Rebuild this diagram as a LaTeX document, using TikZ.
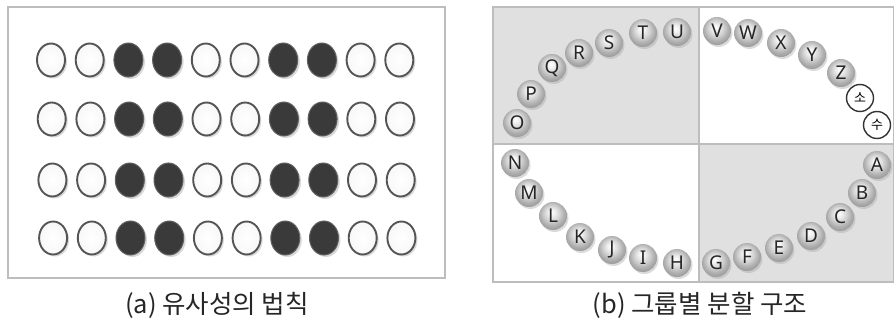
\documentclass[tikz,border=0pt]{standalone}
\usepackage{fontspec}
\setmainfont{Noto Sans}
\newfontfamily\kor{Noto Sans CJK KR}
\usetikzlibrary{shapes.geometric,shadows}
\definecolor{panelgray}{HTML}{E0E0E0}
\definecolor{framegray}{HTML}{BDBDBD}
\definecolor{ringgray}{HTML}{555555}
\definecolor{darkdot}{HTML}{3A3A3A}
\pgfdeclareradialshading{myball}{\pgfpoint{-3bp}{7bp}}{%
  color(0bp)=(white); color(6bp)=(black!6); color(14bp)=(black!18);
  color(22bp)=(black!32); color(30bp)=(black!42); color(50bp)=(black!50)}
\tikzset{
  frame/.style={draw=framegray, line width=1.2pt},
  opendot/.style={ellipse, minimum width=28pt, minimum height=33pt, inner sep=0pt,
    draw=ringgray, line width=1.9pt, inner color=white, outer color=black!3,
    drop shadow={shadow xshift=2pt, shadow yshift=-2pt, fill=black!25, opacity=.6}},
  filldot/.style={ellipse, minimum width=29pt, minimum height=34pt, inner sep=0pt,
    fill=darkdot, draw=darkdot!80, line width=1pt,
    drop shadow={shadow xshift=2pt, shadow yshift=-2pt, fill=black!25, opacity=.6}},
  ballnode/.style={circle, minimum size=28pt, inner sep=0pt, shading=myball,
    text=black!85, font=\fontsize{19}{19}\selectfont,
    drop shadow={shadow xshift=1.5pt, shadow yshift=-2pt, fill=black!35, opacity=.4}},
  ringnode/.style={circle, minimum size=27pt, inner sep=0pt, draw=black!80,
    line width=1.4pt, fill=white, font=\kor\fontsize{13}{13}\selectfont},
  caption/.style={font=\kor\fontsize{25.5}{28}\selectfont, text=black!85}
}
\begin{document}
\begin{tikzpicture}[x=1pt,y=-1pt]
\useasboundingbox (0,0) rectangle (894,320);
% ---------- panel (a)
\draw[frame] (8,7) rectangle (445,278);
\foreach \r/\y in {1/60,2/119,3/180,4/238}{
  \foreach \c in {1,...,10}{
    \pgfmathsetmacro{\xx}{51+(\c-1)*38.7+(\r-1)*0.7}
    \ifnum\c=3 \node[filldot] (d-\r-\c) at (\xx,\y) {};
    \else\ifnum\c=4 \node[filldot] (d-\r-\c) at (\xx,\y) {};
    \else\ifnum\c=7 \node[filldot] (d-\r-\c) at (\xx,\y) {};
    \else\ifnum\c=8 \node[filldot] (d-\r-\c) at (\xx,\y) {};
    \else \node[opendot] (d-\r-\c) at (\xx,\y) {};
    \fi\fi\fi\fi
  }
}
\node[caption] (capa) at (217,305) {(a) 유사성의 법칙};
% ---------- panel (b)
\fill[panelgray] (493,7) rectangle (699,144);
\fill[panelgray] (699,144) rectangle (894,282);
\draw[frame] (493,7) rectangle (894,282);
\draw[frame] (699,7) -- (699,282);
\draw[frame] (493,144) -- (894,144);
\foreach \n/\x/\y in {O/517/123, P/531/94, Q/552/68, R/579/53, S/609/43, T/643/33, U/677/32,
  V/717/31, W/748/33, X/781/43, Y/812/55, Z/841/73,
  N/515/163, M/529/193, L/553/216, K/580/237, J/612/250, I/643/258, H/677/263,
  G/716/263, F/747/257, E/779/248, D/811/236, C/840/217, B/862/193, A/877/165}{
  \node[ballnode] (\n) at (\x,\y) {\n};
}
\node[ringnode] (so) at (860,98) {소};
\node[ringnode] (su) at (877,125) {수};
\node[caption] (capb) at (700,305) {(b) 그룹별 분할 구조};
\end{tikzpicture}
\end{document}
